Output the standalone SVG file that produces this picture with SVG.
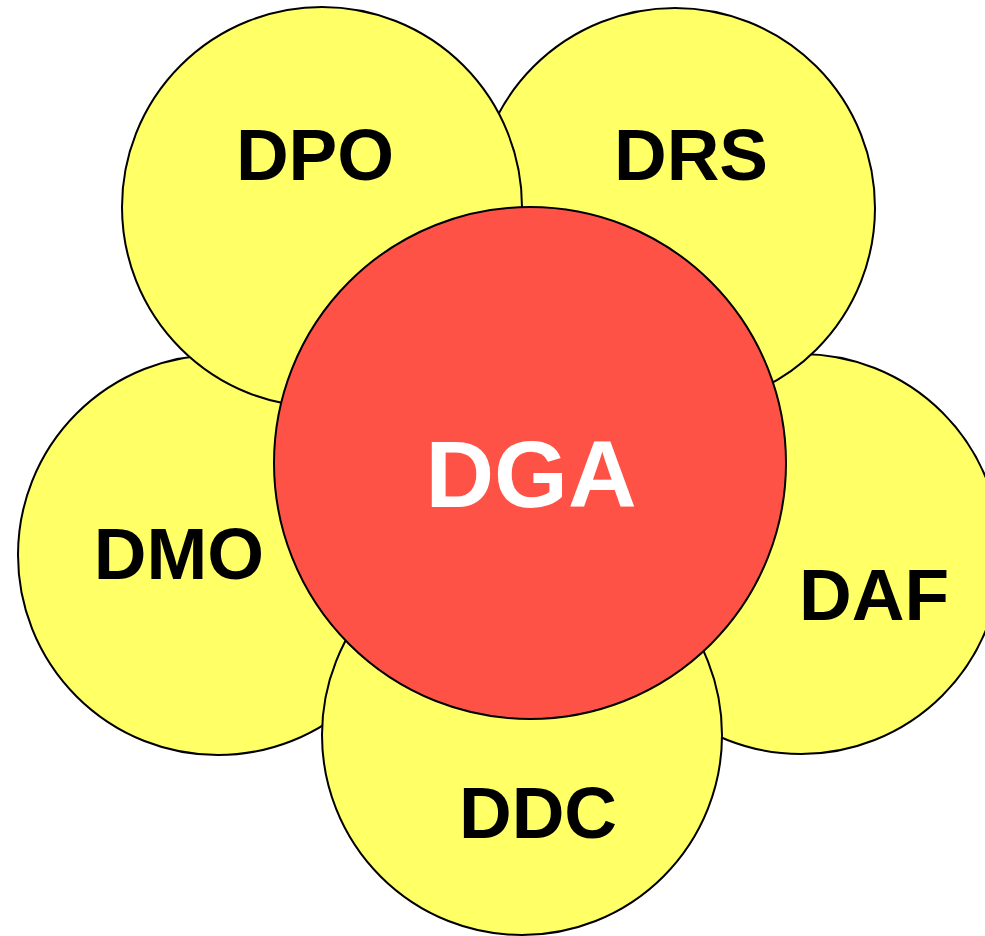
<svg xmlns="http://www.w3.org/2000/svg" width="985" height="936" viewBox="0 0 985 936">
<style>
.petal{fill:#FFFF66;stroke:#000;stroke-width:2}
.core{fill:#FF5246;stroke:#000;stroke-width:2}
.lbl{font-family:"Liberation Sans",Arial,sans-serif;font-weight:bold;font-size:73px;fill:#000;text-anchor:middle}
.big{font-family:"Liberation Sans",Arial,sans-serif;font-weight:bold;font-size:95px;fill:#fff;text-anchor:middle}
</style>
<rect width="985" height="936" fill="#fff"/>
<g id="DAF"><circle class="petal" cx="801" cy="554" r="200"/><text class="lbl" x="874" y="620">DAF</text></g>
<g id="DMO"><circle class="petal" cx="218" cy="555" r="200"/><text class="lbl" x="179" y="579">DMO</text></g>
<g id="DRS"><circle class="petal" cx="675" cy="208" r="200"/><text class="lbl" x="691" y="180">DRS</text></g>
<g id="DDC"><circle class="petal" cx="522" cy="735" r="200"/><text class="lbl" x="538" y="838">DDC</text></g>
<g id="DPO"><circle class="petal" cx="322" cy="207" r="200"/><text class="lbl" x="315" y="180">DPO</text></g>
<g id="DGA"><circle class="core" cx="530" cy="463" r="256"/><text class="big" x="531" y="507">DGA</text></g>
<g id="connectors"/>
</svg>
